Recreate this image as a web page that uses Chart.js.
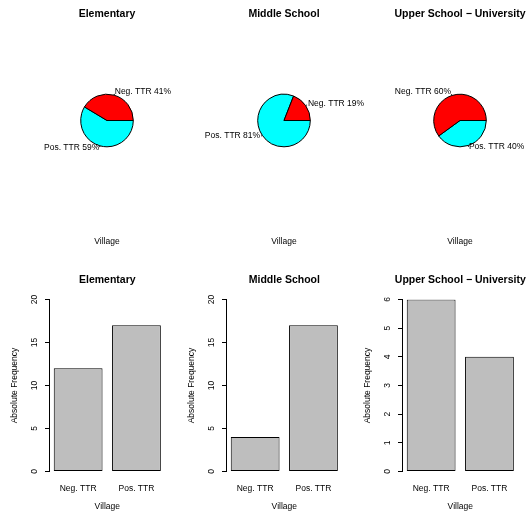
<!DOCTYPE html>
<html>
<head>
<meta charset="utf-8">
<script src="https://cdn.jsdelivr.net/npm/chart.js@4.4.0/dist/chart.umd.min.js"></script>
<style>
html, body { margin: 0; padding: 0; background: #fff; overflow: hidden; width: 528px; height: 515px; }
canvas { position: absolute; }
</style>
</head>
<body>
<script>
// data
const categories = ['Neg. TTR', 'Pos. TTR'];
const panelTitles = ['Elementary', 'Middle School', 'Upper School \u2212 University'];
const negCounts = [12, 4, 6];
const posCounts = [17, 17, 4];
const yMax = [20, 20, 6];
const yStep = [5, 5, 1];
const xLabel = 'Village';
const yLabel = 'Absolute Frequency';

const colLeft = [0, 177, 353];
const yTickPad = [5.3, 5.3, 7.6];

Chart.defaults.font.family = '"Liberation Sans", Arial, Helvetica, sans-serif';
Chart.defaults.color = '#000';

function makeCanvas(left, top, w, h) {
    const c = document.createElement('canvas');
    c.width = w;
    c.height = h;
    c.style.left = left + 'px';
    c.style.top = top + 'px';
    c.style.width = w + 'px';
    c.style.height = h + 'px';
    document.body.appendChild(c);
    return c.getContext('2d');
}

// R-style pie labels: small tick + text at 1.1 radius
const pieLabels = {
    id: 'pieLabels',
    afterDatasetsDraw(chart) {
        const ctx = chart.ctx;
        const meta = chart.getDatasetMeta(0);
        const data = chart.data.datasets[0].data;
        const total = data.reduce((a, b) => a + b, 0);
        ctx.save();
        ctx.font = '8.5px "Liberation Sans", Arial, sans-serif';
        ctx.fillStyle = '#000';
        ctx.strokeStyle = '#000';
        ctx.lineWidth = 1;
        ctx.textBaseline = 'middle';
        meta.data.forEach((arc, i) => {
            const mid = (arc.startAngle + arc.endAngle) / 2;
            const r = arc.outerRadius;
            const cx = Math.cos(mid);
            const cy = Math.sin(mid);
            ctx.beginPath();
            ctx.moveTo(arc.x + cx * r, arc.y + cy * r);
            ctx.lineTo(arc.x + cx * r * 1.05, arc.y + cy * r * 1.05);
            ctx.stroke();
            ctx.textAlign = cx < 0 ? 'right' : 'left';
            const pct = Math.round(data[i] / total * 100);
            ctx.fillText(chart.data.labels[i] + ' ' + pct + '%', arc.x + cx * r * 1.1, arc.y + cy * r * 1.1 - 1);
        });
        ctx.restore();
    }
};

// let the bar title overhang the plot area like R's main title does
const wideTitle = {
    id: 'wideTitle',
    afterLayout(chart) {
        const t = chart.titleBlock;
        if (t) {
            t.left -= 30;
            t.right += 30;
            t.width += 60;
        }
    }
};

for (let i = 0; i < 3; i++) {
    // pie (top row) - R draws counter-clockwise from 3 o'clock, so reverse order and go clockwise
    const pieCtx = makeCanvas(colLeft[i] + 107.3 - 128, 0, 256, 257);
    new Chart(pieCtx, {
        type: 'pie',
        data: {
            labels: categories.slice().reverse(),
            datasets: [{
                data: [posCounts[i], negCounts[i]],
                backgroundColor: ['#00FFFF', '#FF0000'],
                borderColor: '#000',
                borderWidth: 1,
                hoverOffset: 0
            }]
        },
        options: {
            responsive: false,
            animation: false,
            events: [],
            rotation: 90,
            radius: 26.3,
            plugins: {
                legend: { display: false },
                tooltip: { enabled: false },
                title: {
                    display: true,
                    text: panelTitles[i],
                    font: { size: 10.5, weight: 'bold' },
                    padding: { top: 7.7, bottom: 60.2 }
                },
                subtitle: {
                    display: true,
                    position: 'bottom',
                    text: xLabel,
                    font: { size: 8.5 },
                    padding: { top: 76.4, bottom: 9.9 }
                }
            }
        },
        plugins: [pieLabels]
    });

    // bar chart (bottom row)
    const barCtx = makeCanvas(colLeft[i], 257, 176, 258);
    new Chart(barCtx, {
        type: 'bar',
        data: {
            labels: categories,
            datasets: [{
                data: [negCounts[i], posCounts[i]],
                backgroundColor: '#BEBEBE',
                borderColor: '#000',
                borderWidth: 1,
                borderSkipped: false,
                barPercentage: 0.837,
                categoryPercentage: 1
            }]
        },
        options: {
            responsive: false,
            animation: false,
            events: [],
            layout: { padding: { left: 0, right: 10.4, top: 0, bottom: 0 } },
            plugins: {
                legend: { display: false },
                tooltip: { enabled: false },
                title: {
                    display: true,
                    text: panelTitles[i],
                    fullSize: false,
                    font: { size: 10.5, weight: 'bold' },
                    padding: { top: 16.5, bottom: 13.4 }
                }
            },
            scales: {
                x: {
                    grid: { display: false, drawTicks: false },
                    border: { display: false },
                    ticks: { padding: 11.7, font: { size: 8.5 } },
                    title: { display: true, text: xLabel, font: { size: 8.5 }, padding: { top: 0, bottom: 3.6 } },
                    afterFit(s) {
                        s.height = 43.5;
                        s.paddingLeft = 0;
                        s.paddingRight = 0;
                    }
                },
                y: {
                    min: 0,
                    max: yMax[i],
                    grid: { drawOnChartArea: false, tickLength: 4, color: '#000' },
                    border: { display: true, color: '#000', width: 1 },
                    ticks: {
                        stepSize: yStep[i],
                        minRotation: 90,
                        maxRotation: 90,
                        crossAlign: 'center',
                        padding: yTickPad[i],
                        font: { size: 8.5 }
                    },
                    title: { display: true, text: yLabel, font: { size: 8.5 }, padding: { top: 9.9, bottom: 0 } },
                    afterFit(s) {
                        s.width = 49;
                        s.paddingTop = 0;
                        s.paddingBottom = 0;
                    }
                }
            }
        },
        plugins: [wideTitle]
    });
}
</script>
</body>
</html>
